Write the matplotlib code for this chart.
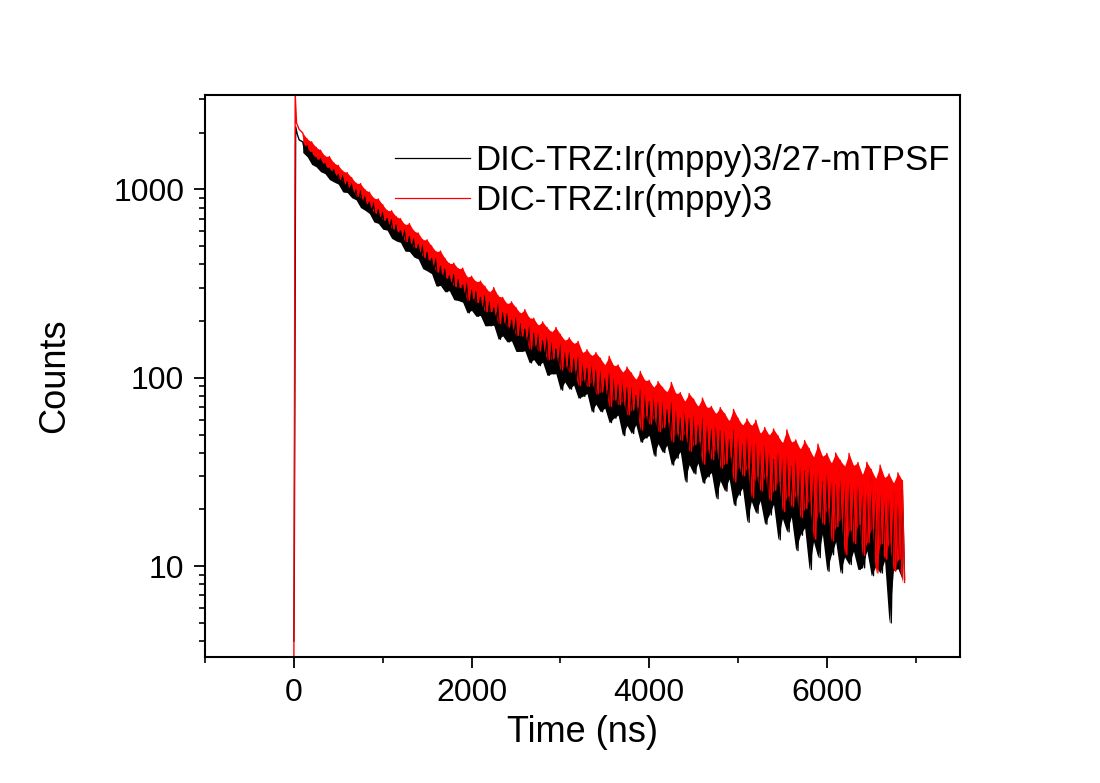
import numpy as np
import matplotlib.pyplot as plt
from matplotlib.ticker import MultipleLocator, LogLocator, NullFormatter

plt.rcParams['font.family'] = ['Liberation Sans', 'DejaVu Sans']

# time grid (ns): upper edge of the noisy trace at t, lower edge at t + 25
t = np.arange(100, 6900, 50)

red_head_t = [0, 15, 30, 60]
red_head = [3.0, 3200, 2250, 2080]
red_hi = [1993, 1850, 1787, 1674, 1614, 1502, 1494, 1383, 1341, 1252,
          1228, 1155, 1080, 1073, 998, 967, 898, 890, 829, 773,
          770, 719, 699, 650, 659, 603, 587, 541, 540, 501,
          468, 471, 431, 404, 406, 380, 382, 343, 346, 324,
          326, 306, 285, 301, 272, 267, 247, 253, 236, 220,
          230, 208, 207, 190, 198, 185, 175, 185, 170, 158,
          163, 152, 156, 136, 141, 131, 136, 127, 117, 130,
          116, 117, 107, 114, 106, 98, 108, 97, 97, 89,
          95.5, 89, 84, 94.5, 82.5, 83.5, 75, 82.5, 77, 70.5,
          78, 69.5, 70.5, 64.5, 69.5, 64.5, 59, 68, 61, 56,
          60.5, 55.7, 59.6, 50.6, 54.5, 49.6, 53.5, 49.2, 45.1, 52.9,
          45.6, 46.8, 41.8, 46.4, 42.2, 37.9, 44.5, 38.3, 39.7, 35.2,
          39.9, 36.5, 33.9, 39.7, 34.2, 35.5, 30.6, 35.6, 32.6, 29.2,
          34.4, 29.5, 30.9, 27.6, 31.3, 28.5]
red_lo = [1776, 1635, 1567, 1454, 1434, 1338, 1280, 1243, 1138, 1106,
          1036, 1011, 918, 908, 850, 829, 752, 737, 690, 680,
          620, 604, 587, 528, 530, 492, 488, 438, 427, 416,
          365, 363, 340, 336, 306, 302, 299, 258, 268, 251,
          251, 224, 225, 225, 194, 201, 186, 189, 168, 167,
          166, 142, 150, 139, 145, 125, 126, 129, 110, 116,
          107, 110, 91, 98, 90, 95, 82, 84, 86.5, 70.3,
          77, 72, 75.3, 63.6, 67.4, 70.2, 52.7, 63, 56.8, 61.1,
          51.8, 54.5, 58, 45.7, 50.6, 46.6, 50.7, 40.7, 44.1, 45.8,
          34.8, 41.7, 36.8, 42.1, 33.2, 35, 38, 28, 33.2, 30.2,
          33.1, 23.1, 30, 25.1, 30, 22.4, 25.3, 28.2, 19.5, 23.6,
          20.7, 23.9, 18.1, 20.2, 22.4, 13.9, 19.3, 16.7, 20.3, 13.6,
          16.2, 17.8, 11.5, 15.5, 13.2, 16.7, 11.4, 13.3, 15.8, 9.2,
          13.2, 10.9, 13.4, 9.4, 10.9, 8.2]

black_head_t = [0, 5, 20, 40, 60]
black_head = [4.0, 10, 2150, 1950, 1830]
black_hi = [1788, 1703, 1570, 1477, 1454, 1369, 1295, 1272, 1199, 1185,
            1094, 1066, 994, 980, 913, 854, 847, 781, 752, 700,
            690, 647, 604, 615, 562, 546, 508, 502, 462, 429,
            429, 390, 377, 347, 353, 331, 310, 321, 291, 287,
            267, 272, 253, 234, 246, 222, 219, 202, 208, 194,
            181, 193, 173, 173, 157, 165, 153, 142, 152, 136,
            136, 126, 130, 122, 112, 123, 109, 109.6, 98.8, 106,
            97.8, 91.7, 98.8, 88.5, 89.5, 80.5, 87.3, 81, 74.9, 83.7,
            73.9, 75, 67.8, 73.4, 67.1, 61.1, 69.4, 60.9, 62.2, 56.1,
            61.4, 56.7, 52.8, 60.6, 52.2, 53.6, 46.9, 53.1, 48.2, 44.2,
            50.8, 43.9, 45.2, 40.7, 44.8, 41, 36.8, 43.9, 37.7, 38.8,
            33.9, 38.6, 34.8, 32, 36.5, 31.4, 32.6, 28.1, 32.5, 29.7,
            27.1, 33, 28.1, 29.5, 26.1, 30.1, 27.1, 24.2, 29.7, 25.2,
            26.5, 23.2, 26.9, 24.5, 22.6, 25.6]
black_lo = [1570, 1490, 1357, 1318, 1242, 1212, 1128, 1095, 1066, 970,
            962, 904, 880, 801, 775, 745, 672, 660, 615, 607,
            550, 533, 523, 471, 468, 438, 427, 380, 369, 357,
            307, 309, 286, 290, 260, 257, 252, 221, 228, 212,
            214, 189, 189, 190, 160, 167, 155, 157, 138, 138,
            139, 120, 125, 116, 121, 103, 105, 105, 86, 95,
            87, 91.5, 78, 79.7, 82.5, 65.8, 72.4, 66, 69, 57.8,
            61, 63.4, 49.3, 55.9, 50.6, 56.3, 45.5, 47.9, 49.4, 38.4,
            44.7, 40.1, 43.9, 34.4, 37.4, 40.5, 28, 34.6, 30.9, 35.3,
            27.6, 29.8, 31.4, 22.8, 28.4, 25, 29.1, 21, 23.8, 26,
            17.1, 22.1, 19.1, 22.3, 16.7, 18.7, 21.3, 13.8, 17.9, 15.2,
            18.3, 12.1, 14.6, 16, 9.6, 13.5, 11.1, 14.8, 9.4, 11.5,
            13.5, 9.2, 11.2, 10.2, 12, 9.6, 9.8, 12.1, 8.9, 10,
            9.2, 10.7, 5.0, 9.5, 9.7, 8.5]

series = [
    ("DIC-TRZ:Ir(mppy)3/27-mTPSF", "black", black_head_t, black_head, black_hi, black_lo),
    ("DIC-TRZ:Ir(mppy)3", "red", red_head_t, red_head, red_hi, red_lo),
]

fig = plt.figure(figsize=(11, 7.83), dpi=100)
ax = fig.add_axes([0.1864, 0.161, 0.6864, 0.7177])

for label, color, ht, hv, hi, lo in series:
    ax.fill_between(t, lo, hi, color=color, lw=0)
    xs = np.concatenate([ht, np.column_stack([t, t + 25]).ravel()])
    ys = np.concatenate([hv, np.column_stack([hi, lo]).ravel()])
    ax.plot(xs, ys, color=color, lw=1.0, label=label)

ax.set_yscale('log')
ax.set_xlim(-1000, 7500)
ax.set_ylim(3.3, 3170)
ax.set_yticks([10, 100, 1000])
ax.set_yticklabels(['10', '100', '1000'])
ax.yaxis.set_minor_locator(LogLocator(base=10, subs=range(2, 10)))
ax.yaxis.set_minor_formatter(NullFormatter())
ax.xaxis.set_major_locator(MultipleLocator(2000))
ax.xaxis.set_minor_locator(MultipleLocator(1000))

ax.tick_params(which='major', direction='out', length=8, width=1.3, labelsize=23, pad=7)
ax.tick_params(which='minor', direction='out', length=4.5, width=1.2)
for s in ax.spines.values():
    s.set_linewidth(1.5)

ax.set_xlabel("Time (ns)", fontsize=26)
ax.set_ylabel("Counts", fontsize=26)
ax.xaxis.set_label_coords(0.5, -0.135)
ax.xaxis.label.set_va('center')
ax.yaxis.set_label_coords(-0.199, 0.5)
ax.yaxis.label.set_va('center')

leg = ax.legend(loc='upper left', bbox_to_anchor=(0.359, 0.8156), bbox_transform=fig.transFigure,
                frameon=False, fontsize=25, handlelength=2.16, handletextpad=0.15,
                labelspacing=0.2, borderaxespad=0, borderpad=0)
for h in leg.get_lines():
    h.set_linewidth(0.9)

fig.savefig("out.png", dpi=100)
